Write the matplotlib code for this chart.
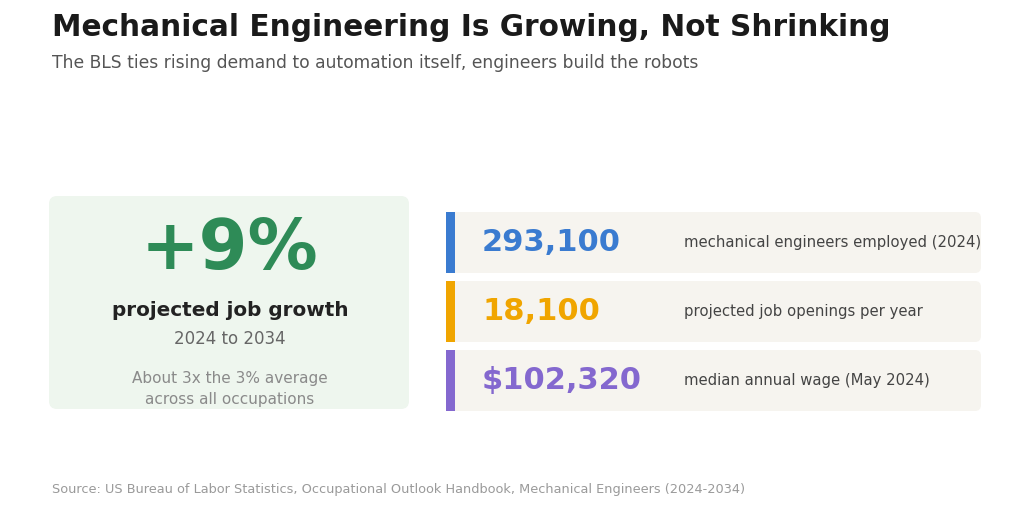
import matplotlib.pyplot as plt
from matplotlib.patches import FancyBboxPatch, Rectangle

plt.rcParams['font.family'] = ['DejaVu Sans']

title = 'Mechanical Engineering Is Growing, Not Shrinking'
subtitle = 'The BLS ties rising demand to automation itself, engineers build the robots'
source = 'Source: US Bureau of Labor Statistics, Occupational Outlook Handbook, Mechanical Engineers (2024-2034)'

hero_value = '+9%'
hero_label = 'projected job growth'
hero_period = '2024 to 2034'
hero_note = 'About 3x the 3% average\nacross all occupations'

stat_values = ['293,100', '18,100', '$102,320']
stat_labels = ['mechanical engineers employed (2024)',
               'projected job openings per year',
               'median annual wage (May 2024)']
stat_colors = ['#3A7BD0', '#F0A500', '#8468CF']

fig = plt.figure(figsize=(10.24, 5.12), dpi=100)
ax = fig.add_axes([0, 0, 1, 1])
ax.set_xlim(0, 1024)
ax.set_ylim(512, 0)
ax.axis('off')

ax.text(52, 28, title, fontsize=21.3, fontweight='bold', color='#1a1a1a', va='center')
ax.text(52, 63, subtitle, fontsize=12.3, color='#555555', va='center')

# hero card
ax.add_patch(FancyBboxPatch((49, 196), 360, 213, boxstyle='round,pad=0,rounding_size=8',
                            fc='#EEF6EE', ec='none'))
ax.text(230, 250, hero_value, fontsize=50.5, fontweight='bold', color='#2E8B57',
        ha='center', va='center')
ax.text(230, 310, hero_label, fontsize=14.4, fontweight='bold', color='#222222',
        ha='center', va='center')
ax.text(230, 339, hero_period, fontsize=12, color='#666666', ha='center', va='center')
ax.text(230, 389, hero_note, fontsize=11, color='#8a8a8a', ha='center', va='center',
        linespacing=1.45)

# stat rows
row_top = 212
row_h = 61
row_gap = 8
for i, (val, lab, col) in enumerate(zip(stat_values, stat_labels, stat_colors)):
    y0 = row_top + i * (row_h + row_gap)
    ax.add_patch(FancyBboxPatch((446, y0), 535, row_h, boxstyle='round,pad=0,rounding_size=6',
                                fc='#F6F4EF', ec='none'))
    ax.add_patch(Rectangle((446, y0), 9, row_h, fc=col, ec='none'))
    ax.text(482, y0 + row_h / 2, val, fontsize=22, fontweight='bold', color=col, va='center')
    ax.text(684, y0 + row_h / 2, lab, fontsize=10.7, color='#444444', va='center')

ax.text(52, 489, source, fontsize=9.3, color='#9a9a9a', va='center')

fig.savefig('out.png', dpi=100, facecolor='white')
